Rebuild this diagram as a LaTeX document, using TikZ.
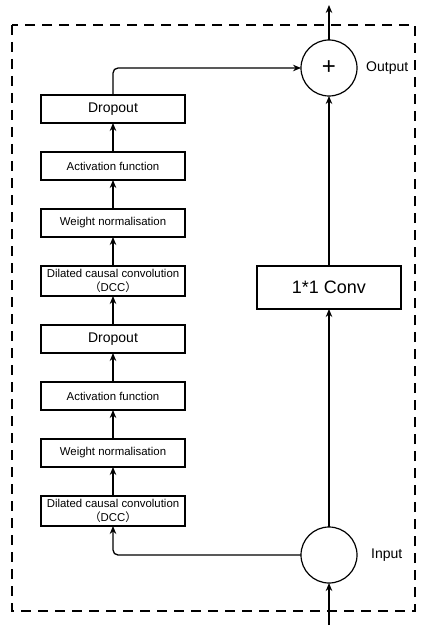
\documentclass[tikz,border=0pt]{standalone}
\usepackage{fontspec}
\setmainfont{Liberation Sans}
\newfontfamily\cjk{Noto Sans CJK SC}
\usetikzlibrary{arrows.meta, positioning}

\begin{document}
\begin{tikzpicture}[
        x=1pt, y=1pt,
        capa/.style={
            rectangle,
            minimum width=144pt,
            minimum height=28pt,
            align=center,
            inner sep=1pt,
            outer sep=0pt,
            font=\fontsize{11.4}{14}\selectfont,
            draw=black,
            line width=1.2pt
        },
        union/.style={
            circle,
            minimum size=56pt,
            inner sep=0pt,
            outer sep=0pt,
            draw=black,
            line width=1.2pt,
            font=\fontsize{24}{24}\selectfont
        },
        etiqueta/.style={font=\fontsize{14}{14}\selectfont, inner sep=2pt},
        flujo/.style={-{Stealth[length=8pt, width=6.5pt]}, line width=1.3pt},
        marco/.style={line width=1.6pt, dash pattern=on 10pt off 7pt}
    ]
        \useasboundingbox (0,0) rectangle (431,-639);
        \draw[marco] (12,-25) rectangle (415,-611);

        % residual block, bottom to top
        \node[capa, minimum height=30pt] (dcc1) at (113,-511) {
            Dilated causal convolution\\
            {\cjk （}DCC{\cjk ）}
        };
        \node[capa, above=29pt of dcc1] (wn1) {Weight normalisation};
        \node[capa, above=29pt of wn1] (act1) {Activation function};
        \node[capa, above=29pt of act1, font=\fontsize{14}{14}\selectfont] (drop1) {Dropout};
        \node[capa, minimum height=30pt, above=29pt of drop1] (dcc2) {
            Dilated causal convolution\\
            {\cjk （}DCC{\cjk ）}
        };
        \node[capa, above=29pt of dcc2] (wn2) {Weight normalisation};
        \node[capa, above=29pt of wn2] (act2) {Activation function};
        \node[capa, above=29pt of act2, font=\fontsize{14}{14}\selectfont] (drop2) {Dropout};

        % shortcut path
        \node[union] (entrada) at (329,-555) {};
        \node[union] (suma) at (329,-68) {+};
        \node[capa, minimum height=43pt, font=\fontsize{18}{18}\selectfont] (conv) at (329,-287.5) {1*1 Conv};
        \node[etiqueta, right=7pt of suma] (salida) {Output};
        \node[etiqueta, right=12pt of entrada] (input) {Input};
        \coordinate (arriba) at (329,-5);
        \coordinate (abajo) at (329,-625);

        \foreach \a/\b in {dcc1/wn1, wn1/act1, act1/drop1, drop1/dcc2, dcc2/wn2, wn2/act2, act2/drop2}
            \draw[flujo] (\a) -- (\b);
        \draw[flujo] (abajo) -- (entrada);
        \draw[flujo] (entrada) -- (conv);
        \draw[flujo] (conv) -- (suma);
        \draw[flujo] (suma) -- (arriba);
        \draw[flujo, rounded corners=5pt] (entrada.west) -| (dcc1.south);
        \draw[flujo, rounded corners=5pt] (drop2.north) |- (suma.west);
    \end{tikzpicture}
\end{document}
